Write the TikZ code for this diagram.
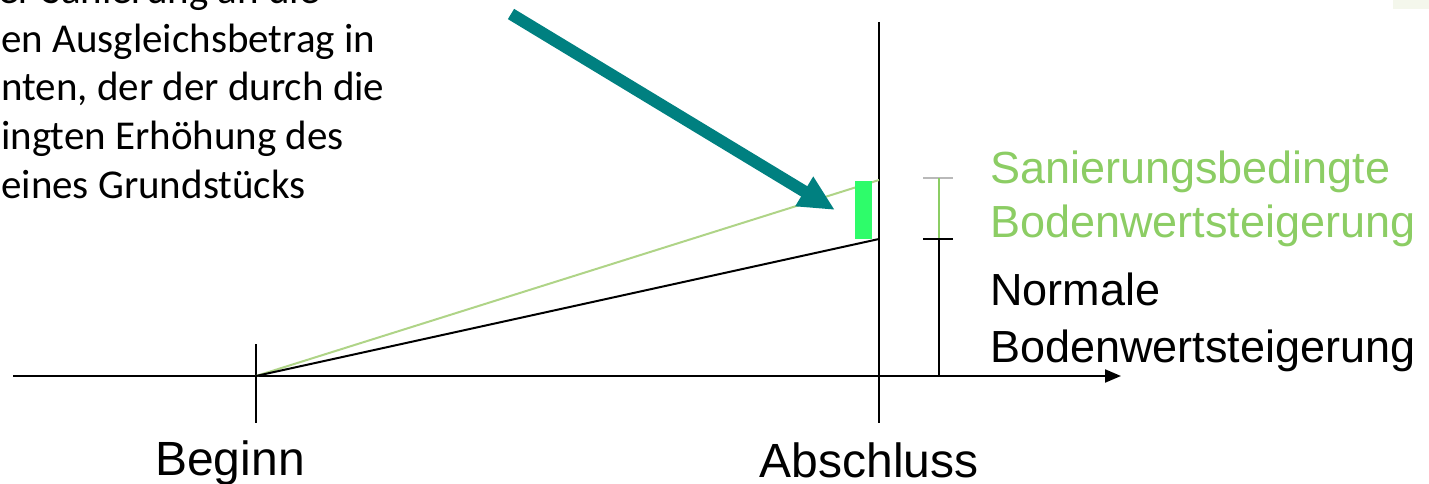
\documentclass[tikz,border=0pt]{standalone}
\usepackage{fontspec}
\setmainfont{Liberation Sans}
\newfontfamily\calfont{Carlito}
\usetikzlibrary{arrows.meta}
\definecolor{teal2}{RGB}{0,128,128}
\definecolor{brightgreen}{RGB}{46,252,106}
\definecolor{labelgreen}{RGB}{140,205,100}
\definecolor{linegreen}{RGB}{175,212,135}
\definecolor{tickgrey}{RGB}{185,185,185}
\definecolor{paleback}{RGB}{244,247,236}
\begin{document}
\begin{tikzpicture}[x=1pt,y=-1pt,
  axisline/.style={line width=2pt,black},
  bodytext/.style={font=\calfont\fontsize{41}{48}\selectfont,anchor=base west,inner sep=0pt},
  lbl/.style={font=\fontsize{45}{54}\selectfont,anchor=base west,inner sep=0pt},
  axlbl/.style={font=\fontsize{48}{56}\selectfont,anchor=base,inner sep=0pt}]
\useasboundingbox (0,0) rectangle (1429,484);
\clip (0,0) rectangle (1429,484);
\fill[paleback] (1393,0) rectangle (1429,9);
% explanatory text (clipped at the left)
\node[bodytext] (t1) at (-2,4) {er Sanierung an die};
\node[bodytext] (t2) at (1,52.5) {en Ausgleichsbetrag in};
\node[bodytext] (t3) at (1,101) {nten, der der durch die};
\node[bodytext] (t4) at (1,149.5) {ingten Erhöhung des};
\node[bodytext] (t5) at (1,198) {eines Grundstücks};
% axes
\coordinate (axL) at (13,376);
\coordinate (axR) at (1121,376);
\coordinate (beg) at (256,376);
\coordinate (begT) at (256,344);
\coordinate (begB) at (256,423);
\coordinate (absT) at (879,22);
\coordinate (absB) at (879,423);
\coordinate (endN) at (879,239);
\coordinate (endS) at (879,180);
\draw[axisline,-{Triangle[length=16pt,width=13pt]}] (axL) -- (axR);
\draw[axisline] (begT) -- (begB);
\draw[axisline] (absT) -- (absB);
% growth lines
\draw[linegreen,line width=2pt] (beg) -- (endS);
\draw[black,line width=2pt] (beg) -- (endN);
% highlight bar
\fill[brightgreen] (855,181) rectangle (872,239);
% brackets
\coordinate (brT) at (939,178);
\coordinate (brM) at (939,239);
\coordinate (brB) at (939,376);
\draw[tickgrey,line width=1.5pt] (923,178) -- (953,178);
\draw[labelgreen,line width=1.5pt] (brT) -- (brM);
\draw[black,line width=2pt] (brM) -- (brB);
\draw[black,line width=2pt] (923,239) -- (953,239);
% labels
\node[lbl,labelgreen] (s1) at (990,183) {Sanierungsbedingte};
\node[lbl,labelgreen] (s2) at (990,237) {Bodenwertsteigerung};
\node[lbl,black] (n1) at (990,305) {Normale};
\node[lbl,black] (n2) at (990,362) {Bodenwertsteigerung};
\node[axlbl] (beginn) at (230,475) {Beginn};
\node[axlbl] (abschluss) at (869,477) {Abschluss};
% teal pointer arrow
\coordinate (arS) at (511,14);
\coordinate (arE) at (835,210);
\draw[teal2,line width=12pt,-{Triangle[length=36pt,width=32pt]}] (arS) -- (arE);
\end{tikzpicture}
\end{document}
